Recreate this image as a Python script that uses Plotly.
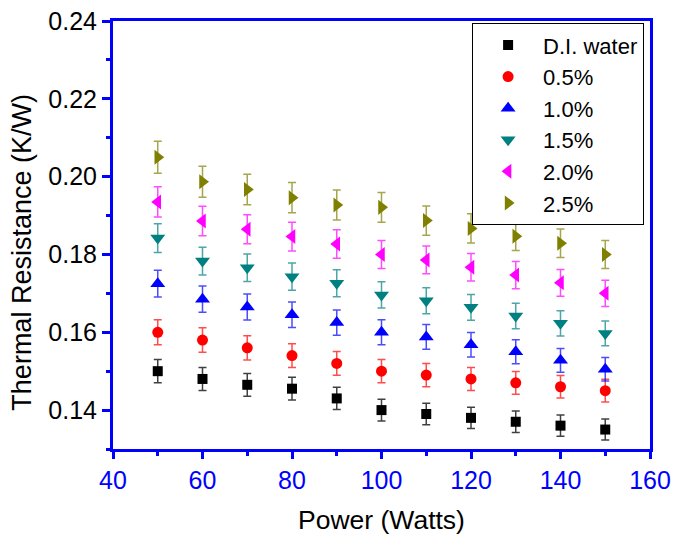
import plotly.graph_objects as go

# Heat input (W)
power = [50, 60, 70, 80, 90, 100, 110, 120, 130, 140, 150]

# Thermal resistance (K/W) for each working fluid
di_water = [0.150, 0.148, 0.1465, 0.1455, 0.143, 0.140, 0.139, 0.138, 0.137, 0.136, 0.135]
conc_05 = [0.160, 0.158, 0.156, 0.154, 0.152, 0.150, 0.149, 0.148, 0.147, 0.146, 0.145]
conc_10 = [0.1725, 0.1685, 0.1665, 0.1645, 0.1625, 0.160, 0.1588, 0.1568, 0.155, 0.1528, 0.1505]
conc_15 = [0.1842, 0.1783, 0.1766, 0.1743, 0.1726, 0.1696, 0.1681, 0.1664, 0.1642, 0.1623, 0.1597]
conc_20 = [0.1935, 0.1886, 0.1865, 0.1846, 0.1827, 0.1800, 0.1786, 0.1767, 0.1747, 0.1727, 0.1700]
conc_25 = [0.205, 0.1987, 0.1967, 0.1946, 0.1927, 0.1921, 0.1887, 0.1867, 0.1847, 0.1829, 0.180]

series_names = ["D.I. water", "0.5%", "1.0%", "1.5%", "2.0%", "2.5%"]
series_values = [di_water, conc_05, conc_10, conc_15, conc_20, conc_25]
error_percent = 2  # measurement uncertainty, % of value

styles = [
    ("square", 10, "#000000", "rgba(0,0,0,0.75)"),
    ("circle", 11, "#FF0000", "rgba(255,0,0,0.7)"),
    ("triangle-up", 13, "#0000FF", "rgba(0,0,255,0.7)"),
    ("triangle-down", 13, "#008080", "rgba(0,128,128,0.7)"),
    ("triangle-left", 13, "#FF00FF", "rgba(255,0,255,0.7)"),
    ("triangle-right", 13, "#808000", "rgba(128,128,0,0.7)"),
]

FONT = "Liberation Sans, Arial, sans-serif"

fig = go.Figure()
for name, vals, (sym, size, col, ecol) in zip(series_names, series_values, styles):
    fig.add_trace(go.Scatter(
        x=power, y=vals, name=name, mode="markers",
        marker=dict(symbol=sym, size=size, color=col, line=dict(width=0)),
        error_y=dict(type="percent", value=error_percent, color=ecol,
                     thickness=1.5, width=4),
    ))

fig.update_layout(
    width=674, height=535,
    margin=dict(l=113, r=24, t=21, b=86, autoexpand=False),
    paper_bgcolor="white", plot_bgcolor="white",
    font=dict(family=FONT, size=24, color="black"),
    showlegend=True,
    legend=dict(
        x=0.989, y=0.995, xanchor="right", yanchor="top",
        bordercolor="black", borderwidth=1, bgcolor="white",
        font=dict(family=FONT, size=22, color="black"),
        itemwidth=60, tracegroupgap=0,
    ),
    # y-axis title, set slightly below the axis midpoint
    annotations=[dict(
        text="Thermal Resistance (K/W)", textangle=-90,
        xref="paper", yref="paper", x=-0.1685, y=0.46,
        xanchor="center", yanchor="middle", showarrow=False,
        font=dict(family=FONT, size=27, color="black"),
    )],
)

fig.update_xaxes(
    range=[40, 160], tickvals=[40, 60, 80, 100, 120, 140, 160],
    automargin=False,
    showgrid=False, zeroline=False,
    showline=True, linecolor="#0000FF", linewidth=3, mirror=True,
    ticks="outside", ticklen=7, tickwidth=3, tickcolor="#0000FF",
    minor=dict(tickvals=[50, 70, 90, 110, 130, 150], ticks="outside",
               ticklen=4, tickwidth=3, tickcolor="#0000FF"),
    tickfont=dict(family=FONT, size=25, color="#0000FF"),
    title=dict(text="Power (Watts)", font=dict(family=FONT, size=26.5, color="black"),
               standoff=20),
)

fig.update_yaxes(
    range=[0.13, 0.24], tickvals=[0.14, 0.16, 0.18, 0.20, 0.22, 0.24],
    tickformat=".2f", automargin=False,
    showgrid=False, zeroline=False,
    showline=True, linecolor="#0000FF", linewidth=3, mirror=True,
    ticks="outside", ticklen=8, tickwidth=3, tickcolor="#0000FF",
    minor=dict(tickvals=[0.13, 0.15, 0.17, 0.19, 0.21, 0.23], ticks="outside",
               ticklen=4, tickwidth=3, tickcolor="#0000FF"),
    tickfont=dict(family=FONT, size=25, color="black"),
)

fig.write_html("out.html")
